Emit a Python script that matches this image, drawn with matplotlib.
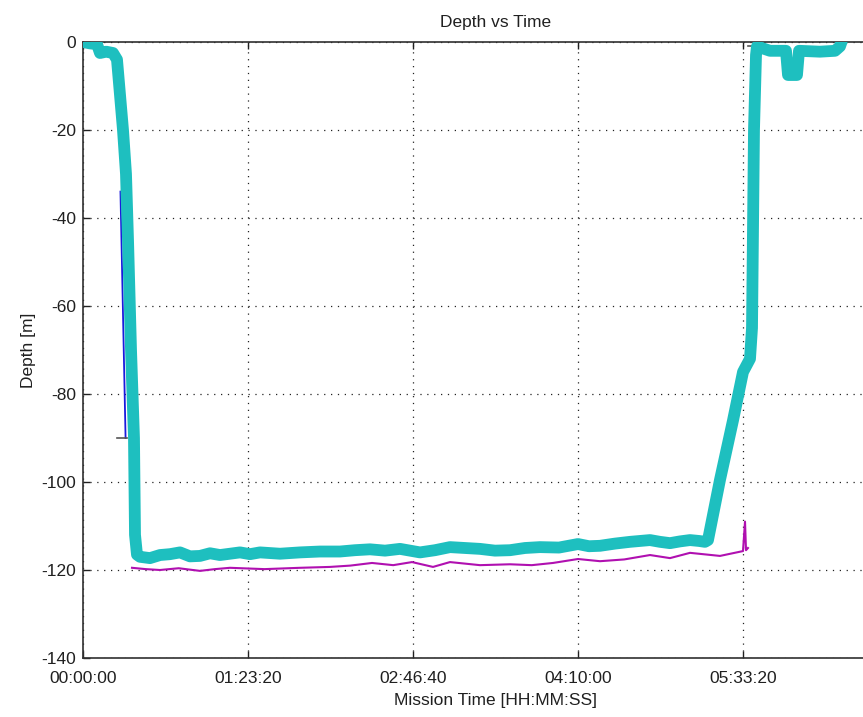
import numpy as np
import matplotlib
matplotlib.use("Agg")
import matplotlib.pyplot as plt
from matplotlib.ticker import FuncFormatter

plt.rcParams['font.family'] = ['Liberation Sans', 'DejaVu Sans']
plt.rcParams['axes.unicode_minus'] = False

# depth sensor (thick cyan), time in seconds
t_depth = [0, 200, 424, 515, 700, 909, 1030, 1121, 1212, 1303, 1364, 1455, 1545, 1576, 1636,
           1727, 2030, 2333, 2636, 2939, 3242, 3545, 3848, 4152, 4455, 4758, 5061, 5364,
           5970, 6576, 7182, 7788, 8242, 8697, 9152, 9606, 10212, 10667, 11121, 11576,
           12030, 12485, 12939, 13394, 13848, 14424, 15000, 15333, 15667, 16121, 16576,
           17182, 17485, 17788, 18091, 18394, 18667, 18848, 18939,
           19303, 19697, 20000, 20212, 20273, 20333, 20394, 20424,
           20818, 21303, 21364, 21636, 21697, 22333, 22788, 22939, 23030]
d_depth = [0, -0.3, -0.5, -2.5, -2.2, -2.5, -4, -12, -20, -30, -45, -70, -90, -112, -116.5,
           -117.0, -117.3, -116.6, -116.4, -116.0, -116.9, -116.8, -116.2, -116.6, -116.3, -116.0, -116.4, -116.0,
           -116.3, -116.0, -115.8, -115.8, -115.5, -115.3, -115.6, -115.2, -116.0, -115.5, -114.8, -115.0,
           -115.2, -115.6, -115.5, -115.0, -114.8, -114.9, -114.1, -114.6, -114.5, -114.0, -113.6,
           -113.2, -113.6, -113.9, -113.5, -113.2, -113.4, -113.6, -113.2,
           -99.5, -86, -75, -72, -65, -20, -3, -1,
           -2, -2, -7.5, -7.5, -2, -2.2, -2, -1, 1]

# second depth estimate (magenta)
t_alt = [1485, 1900, 2333, 2900, 3545, 4000, 4455, 5500, 6576, 7485, 8100, 8758, 9400, 9970,
         10606, 11121, 12030, 12939, 13600, 14242, 15000, 15667, 16400, 17182, 17788, 18394,
         19303, 20000, 20061, 20091, 20150]
d_alt = [-119.5, -119.8, -120.0, -119.6, -120.2, -119.8, -119.5, -119.8, -119.5, -119.3, -119.0, -118.4, -118.9, -118.2,
         -119.3, -118.2, -118.9, -118.7, -118.9, -118.4, -117.5, -118.0, -117.6, -116.6, -117.3, -116.1,
         -116.8, -115.7, -109.0, -115.5, -115.0]

# blue partial trace during descent
t_blue = [1135, 1290]
d_blue = [-34, -90]

# dark marker segments
t_mark = [1030, 1333, np.nan, 20150, 20350]
d_mark = [-90, -90, np.nan, -1, -1]

x_ticks = [0, 5000, 10000, 15000, 20000]
y_ticks = [0, -20, -40, -60, -80, -100, -120, -140]


def hms(x, pos):
    s = int(round(x))
    return "%02d:%02d:%02d" % (s // 3600, (s % 3600) // 60, s % 60)


fig = plt.figure(figsize=(8.63, 7.17), dpi=100)
ax = fig.add_axes([83 / 863, 59 / 717, 825 / 863, 616 / 717])

ax.plot(t_depth, d_depth, color='#1ebfbf', lw=8.5, solid_capstyle='butt', zorder=3)
ax.plot(t_alt, d_alt, color='#b010b0', lw=1.5, zorder=4)
ax.plot(t_blue, d_blue, color='#1a1adc', lw=1.3, zorder=2)
ax.plot(t_mark, d_mark, color='#555555', lw=1.2, zorder=2)

ax.set_xlim(0, 25000)
ax.set_ylim(-140, 0)
ax.set_xticks(x_ticks)
ax.set_yticks(y_ticks)
ax.xaxis.set_major_formatter(FuncFormatter(hms))
ax.grid(True, color='#222222', linestyle=(0, (1, 4.5)), lw=0.9)
ax.set_axisbelow(True)

ax.tick_params(direction='in', top=True, right=True, length=5, width=1,
               labelsize=12.5, colors='#202020', pad=9.5)
ax.tick_params(axis='y', pad=5)
for sp in ax.spines.values():
    sp.set_linewidth(1.2)
    sp.set_color('#303030')

ax.set_title("Depth vs Time", fontsize=12.5, pad=11, color='#202020')
ax.set_xlabel("Mission Time [HH:MM:SS]", fontsize=12.5, color='#202020', labelpad=5)
ax.set_ylabel("Depth [m]", fontsize=12.5, color='#202020', labelpad=4)

fig.savefig("out.png", dpi=100)
